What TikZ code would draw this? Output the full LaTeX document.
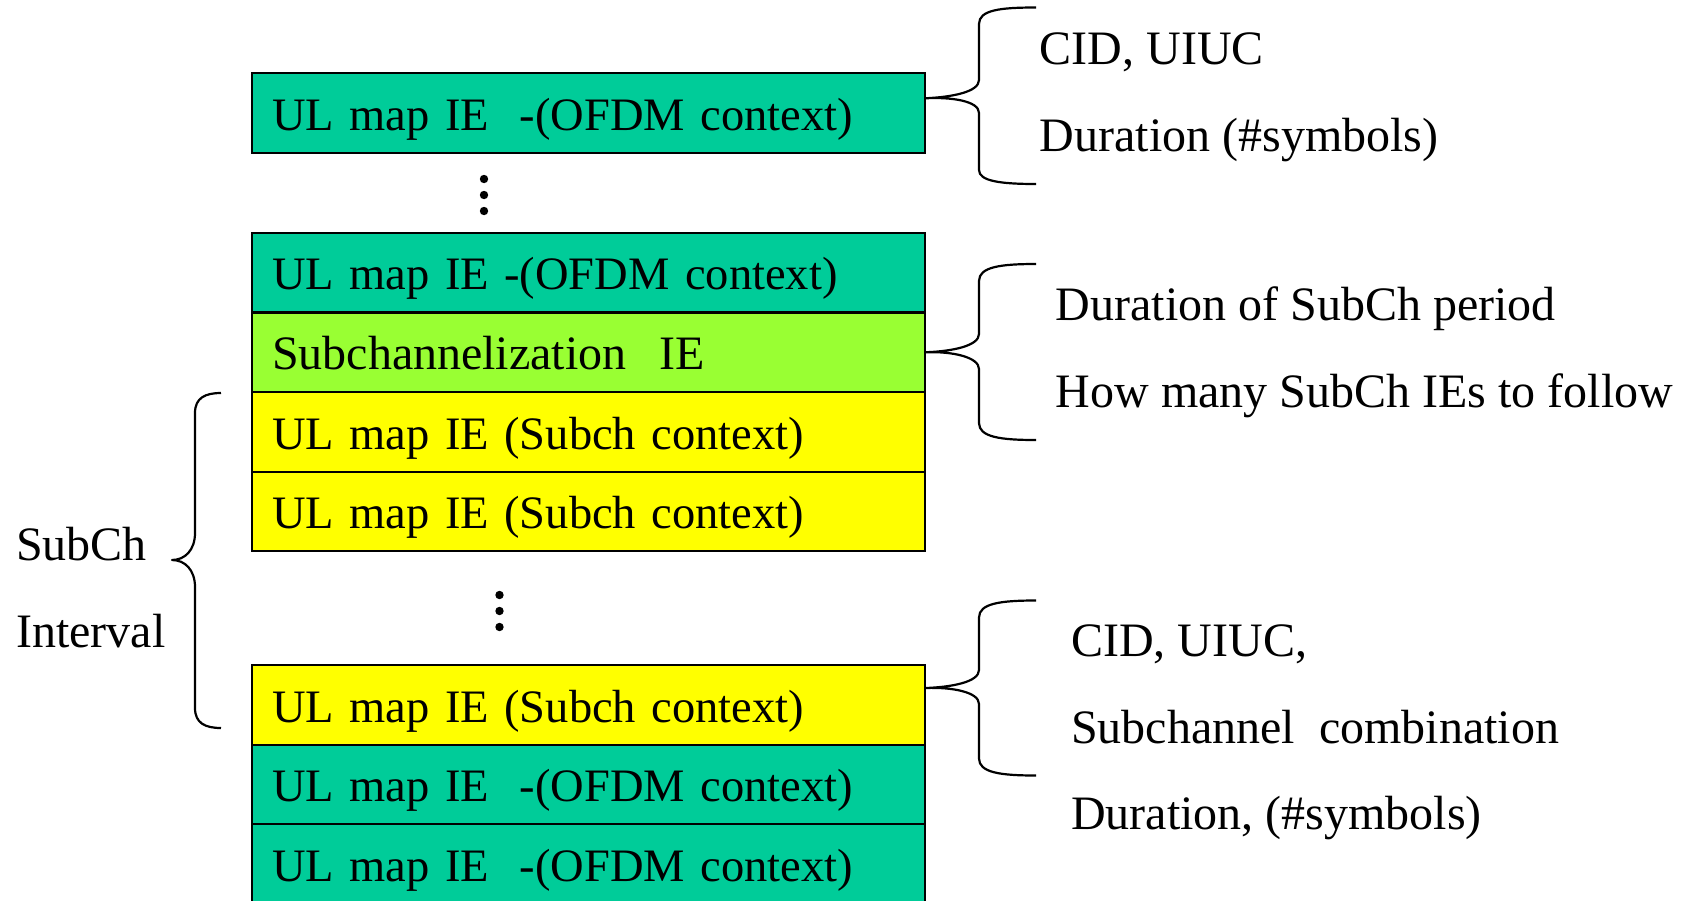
\documentclass[tikz,border=0pt]{standalone}
\usepackage{fontspec}
\setmainfont{Liberation Serif}
\usetikzlibrary{calc}
\definecolor{ofdm}{HTML}{00CC99}
\definecolor{subie}{HTML}{99FF33}
\definecolor{subch}{HTML}{FFFF00}
\tikzset{
  ie/.style={draw=black, line width=2pt, anchor=north west, minimum width=673pt,
    text width=633pt, align=left, inner xsep=20pt, inner ysep=0pt,
    text height=57pt, text depth=22.5pt, font=\fontsize{46.5}{56}\selectfont},
  lbl/.style={anchor=base west, inner sep=0pt},
  brc/.style={draw=black, line width=2.2pt, line join=round},
  dot/.style={fill=black}
}
\begin{document}
\begin{tikzpicture}[x=1pt, y=-1pt, font=\fontsize{48}{58}\selectfont]
\useasboundingbox (0,0) rectangle (1688,900);

% boxes
\node[ie, fill=ofdm] (b1) at (251,72) {UL map IE\ \ -(OFDM context)};
\node[ie, fill=ofdm] (b2) at (251,231.5) {UL map IE -(OFDM context)};
\node[ie, fill=subie, font=\fontsize{48}{58}\selectfont] (b3) at (251,311.5) {Subchannelization\hspace{33pt}IE};
\node[ie, fill=subch] (b4) at (251,391) {UL map IE (Subch context)};
\node[ie, fill=subch] (b5) at (251,470.5) {UL map IE (Subch context)};
\node[ie, fill=subch] (b6) at (251,664) {UL map IE (Subch context)};
\node[ie, fill=ofdm] (b7) at (251,743.5) {UL map IE\ \ -(OFDM context)};
\node[ie, fill=ofdm] (b8) at (251,823) {UL map IE\ \ -(OFDM context)};

% vertical ellipses
\fill[dot] (484,179) circle[radius=4.2pt];
\fill[dot] (484,195) circle[radius=4.2pt];
\fill[dot] (484,211) circle[radius=4.2pt];
\fill[dot] (499.5,595) circle[radius=4.2pt];
\fill[dot] (499.5,611) circle[radius=4.2pt];
\fill[dot] (499.5,627) circle[radius=4.2pt];

% right brace 1
\coordinate (t1) at ([yshift=14.5pt]b1.east);
\draw[brc] (1036,7.5) .. controls (1000,7.5) and (979,10) .. (979,24) -- (979,80)
  .. controls (979,92) and (952,97) .. (t1)
  .. controls (952,97) and (979,101) .. (979,113) -- (979,170)
  .. controls (979,181) and (1000,184) .. (1036,184);

% right brace 2
\coordinate (t2) at (b3.east);
\draw[brc] (1036,264) .. controls (1000,264) and (979,267) .. (979,281) -- (979,334)
  .. controls (979,346) and (952,351.25) .. (t2)
  .. controls (952,351.25) and (979,357) .. (979,369) -- (979,423)
  .. controls (979,437) and (1000,440) .. (1036,440);

% right brace 3
\coordinate (t3) at ([yshift=16.75pt]b6.east);
\draw[brc] (1036,600.5) .. controls (1000,600.5) and (979,603.5) .. (979,617.5) -- (979,670)
  .. controls (979,682) and (952,687) .. (t3)
  .. controls (952,687) and (979,692) .. (979,704) -- (979,758.5)
  .. controls (979,772.5) and (1000,775.5) .. (1036,775.5);

% left brace
\coordinate (lt) at (172,560);
\draw[brc] (221,393) .. controls (205,393) and (195,398) .. (195,413) -- (195,533)
  .. controls (195,550) and (185,560) .. (lt)
  .. controls (185,560) and (195,570) .. (195,587) -- (195,708)
  .. controls (195,723) and (205,728) .. (221,728);

% labels
\node[lbl] (r1a) at (1039.5,64) {CID, UIUC};
\node[lbl] (r1b) at (1039.5,151.5) {Duration (\#symbols)};
\node[lbl] (r2a) at (1055.5,320) {Duration of SubCh period};
\node[lbl] (r2b) at (1055.5,407) {How many SubCh IEs to follow};
\node[lbl] (r3a) at (1071,656) {CID, UIUC,};
\node[lbl] (r3b) at (1071,743) {Subchannel\ \ combination};
\node[lbl] (r3c) at (1071,829) {Duration, (\#symbols)};
\node[lbl] (l1) at (16,560) {SubCh};
\node[lbl] (l2) at (16,647) {Interval};
\end{tikzpicture}
\end{document}
